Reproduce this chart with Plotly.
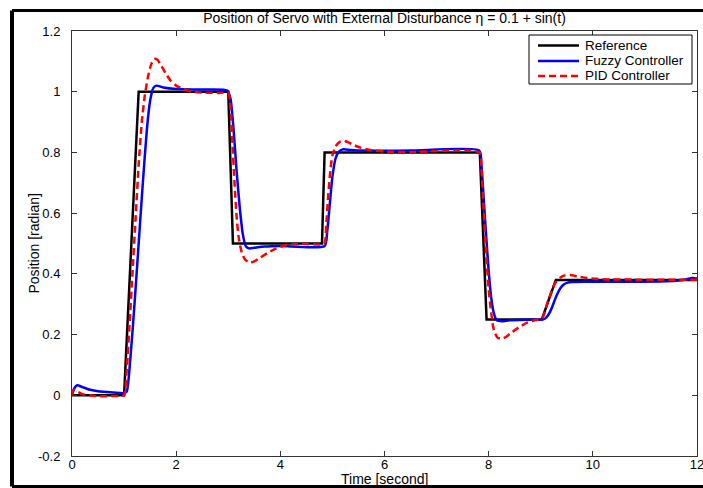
import plotly.graph_objects as go

# ---- data ----
ref_t = [0, 1.0, 1.28, 3.0, 3.09, 4.8, 4.85, 7.83, 7.96, 9.02, 9.29, 12]
ref_y = [0, 0, 1.0, 1.0, 0.5, 0.5, 0.8, 0.8, 0.25, 0.25, 0.38, 0.38]

fuzzy_t = [0, 0.04, 0.1, 0.2, 0.35, 0.5, 0.8, 1.0, 1.05, 1.12, 1.2, 1.28, 1.36, 1.44,
           1.5, 1.56, 1.62, 1.75, 2.0, 2.5, 2.98, 3.04, 3.1, 3.16, 3.22, 3.28, 3.34,
           3.4, 3.5, 3.7, 4.0, 4.85, 4.9, 4.95, 5.0, 5.06, 5.12, 5.2, 5.35, 5.6, 6.5,
           7.82, 7.86, 7.9, 7.95, 8.0, 8.05, 8.1, 8.16, 8.25, 8.4, 8.7, 9.05, 9.1,
           9.15, 9.2, 9.25, 9.3, 9.35, 9.4, 9.45, 9.52, 9.6, 9.8, 10.5, 11.3, 11.6,
           11.8, 11.9, 12]
fuzzy_y = [0, 0.022, 0.033, 0.027, 0.018, 0.013, 0.009, 0.007, 0.012, 0.12, 0.3, 0.5,
           0.7, 0.88, 0.97, 1.012, 1.02, 1.014, 1.009, 1.007, 1.004, 0.98, 0.88, 0.74,
           0.62, 0.53, 0.49, 0.484, 0.486, 0.49, 0.492, 0.492, 0.54, 0.63, 0.72, 0.78,
           0.802, 0.81, 0.808, 0.806, 0.806, 0.806, 0.76, 0.66, 0.53, 0.41, 0.32,
           0.27, 0.246, 0.244, 0.247, 0.249, 0.25, 0.255, 0.266, 0.283, 0.305, 0.327,
           0.345, 0.358, 0.366, 0.371, 0.373, 0.374, 0.374, 0.375, 0.377, 0.382,
           0.386, 0.385]

pid_t = [0, 0.04, 0.1, 0.2, 0.35, 0.5, 0.9, 1.0, 1.05, 1.1, 1.16, 1.22, 1.28, 1.34,
         1.4, 1.46, 1.52, 1.58, 1.64, 1.7, 1.8, 1.9, 2.0, 2.15, 2.3, 2.5, 2.8, 3.0,
         3.04, 3.08, 3.12, 3.16, 3.2, 3.26, 3.32, 3.4, 3.5, 3.6, 3.75, 3.9, 4.1, 4.4,
         4.84, 4.88, 4.92, 4.96, 5.0, 5.06, 5.14, 5.22, 5.3, 5.4, 5.55, 5.75, 6.0,
         6.5, 7.82, 7.86, 7.9, 7.95, 8.0, 8.05, 8.1, 8.17, 8.25, 8.33, 8.45, 8.6,
         8.75, 8.9, 9.02, 9.07, 9.12, 9.18, 9.24, 9.3, 9.38, 9.46, 9.56, 9.7, 9.9,
         10.2, 10.8, 12]
pid_y = [0, 0.018, 0.012, 0.004, -0.001, -0.003, -0.002, 0.0, 0.08, 0.22, 0.4, 0.58,
         0.76, 0.9, 0.99, 1.05, 1.09, 1.108, 1.105, 1.09, 1.06, 1.035, 1.02, 1.008,
         1.0, 0.997, 0.996, 0.996, 0.95, 0.83, 0.7, 0.59, 0.52, 0.47, 0.448, 0.438,
         0.441, 0.452, 0.468, 0.482, 0.494, 0.499, 0.5, 0.56, 0.66, 0.74, 0.79, 0.82,
         0.835, 0.838, 0.834, 0.825, 0.815, 0.807, 0.803, 0.801, 0.8, 0.75, 0.62,
         0.47, 0.35, 0.27, 0.215, 0.19, 0.186, 0.192, 0.208, 0.226, 0.24, 0.248,
         0.252, 0.27, 0.3, 0.33, 0.358, 0.375, 0.388, 0.395, 0.396, 0.392, 0.386,
         0.382, 0.381, 0.381]

x_ticks = [0, 2, 4, 6, 8, 10, 12]
y_ticks = [-0.2, 0, 0.2, 0.4, 0.6, 0.8, 1, 1.2]
y_tick_text = ["-0.2", "0", "0.2", "0.4", "0.6", "0.8", "1", "1.2"]

series_names = ["Reference", "Fuzzy Controller", "PID Controller"]
series_colors = ["black", "#0000ff", "#ff0000"]
series_dash = ["solid", "solid", "7px,4px"]

FONT = "Liberation Sans, Arial, Helvetica, sans-serif"

# plot area in pixels (703 x 488 canvas)
L, R, T, B = 72, 6, 31, 32
PW, PH = 703 - L - R, 488 - T - B


def px_x(px):
    return (px - L) / PW


def px_y(py):
    return (488 - B - py) / PH


fig = go.Figure()
series = [(ref_t, ref_y), (fuzzy_t, fuzzy_y), (pid_t, pid_y)]
for i, (tt, yy) in enumerate(series):
    line = dict(color=series_colors[i], width=2.5, dash=series_dash[i])
    if i > 0:
        line.update(shape="spline", smoothing=0.6)
    fig.add_trace(go.Scatter(x=tt, y=yy, mode="lines", name=series_names[i],
                             line=line, showlegend=False))

axis_common = dict(showline=True, linecolor="#333", linewidth=1, mirror="ticks",
                   ticks="inside", ticklen=5, tickcolor="#333", showgrid=False,
                   zeroline=False, automargin=False, ticklabeloverflow="allow",
                   tickfont=dict(size=13, color="black", family=FONT))

fig.update_layout(
    width=703, height=488,
    margin=dict(l=L, r=R, t=T, b=B),
    paper_bgcolor="white", plot_bgcolor="white",
    font=dict(family=FONT, size=13, color="black"),
    title=dict(text="Position of Servo with External Disturbance η = 0.1 + sin(t)",
               x=(L + (703 - R)) / 2 / 703, xanchor="center", y=1 - 18 / 488,
               yanchor="middle", font=dict(size=14, family=FONT, color="black")),
    xaxis=dict(range=[0, 12], tickvals=x_ticks, ticklabelstandoff=-4, **axis_common),
    yaxis=dict(range=[-0.2, 1.2], tickvals=y_ticks, ticktext=y_tick_text,
               ticklabelstandoff=8, **axis_common),
    showlegend=False,
)

# axis titles
fig.add_annotation(xref="paper", yref="paper", x=0.5, y=px_y(479), text="Time [second]",
                   showarrow=False, xanchor="center", yanchor="middle",
                   font=dict(size=14, family=FONT, color="black"))
fig.add_annotation(xref="paper", yref="paper", x=px_x(33), y=0.5, text="Position [radian]",
                   showarrow=False, xanchor="center", yanchor="middle", textangle=-90,
                   font=dict(size=14, family=FONT, color="black"))

# ---- legend box drawn in paper coordinates ----
fig.add_shape(type="rect", xref="paper", yref="paper",
              x0=px_x(529), x1=px_x(692), y0=px_y(84), y1=px_y(35),
              line=dict(color="black", width=1), fillcolor="white", layer="above")
row_y = [45.5, 61.0, 76.0]
for i, name in enumerate(series_names):
    fig.add_shape(type="line", xref="paper", yref="paper",
                  x0=px_x(538), x1=px_x(579), y0=px_y(row_y[i]), y1=px_y(row_y[i]),
                  line=dict(color=series_colors[i], width=2.5, dash=series_dash[i]),
                  layer="above")
    fig.add_annotation(xref="paper", yref="paper", x=px_x(584), y=px_y(row_y[i]),
                       xanchor="left", yanchor="middle", text=name, showarrow=False,
                       borderpad=0, font=dict(size=13.5, family=FONT, color="black"))

# outer black frame of the picture
frame_left = px_x(12)
frame_top = px_y(10.5)
frame_bottom = px_y(486.5)
fig.add_shape(type="line", xref="paper", yref="paper", x0=frame_left, x1=frame_left,
              y0=frame_bottom, y1=frame_top, line=dict(color="black", width=4))
fig.add_shape(type="line", xref="paper", yref="paper", x0=frame_left, x1=1.05,
              y0=frame_top, y1=frame_top, line=dict(color="black", width=3))
fig.add_shape(type="line", xref="paper", yref="paper", x0=frame_left, x1=1.05,
              y0=frame_bottom, y1=frame_bottom, line=dict(color="black", width=3))

fig.write_html("out.html")
